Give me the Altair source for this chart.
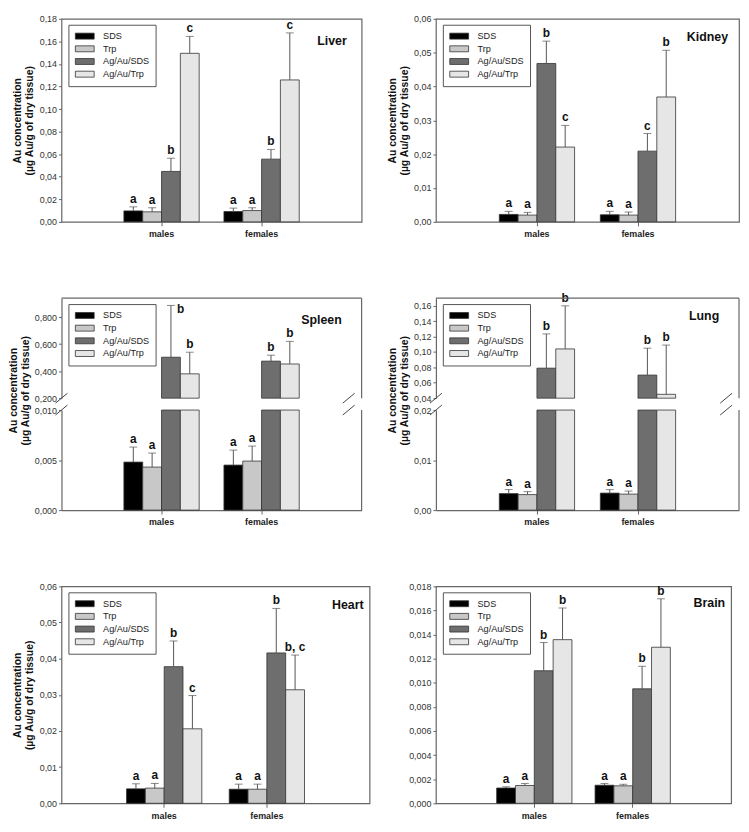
import altair as alt
import pandas as pd

FONT = "Liberation Sans"
FRAME = "#666666"
SEXES = ["males", "females"]
TREATMENTS = ["SDS", "Trp", "Ag/Au/SDS", "Ag/Au/Trp"]
COLORS = ["#000000", "#c8c8c8", "#6e6e6e", "#e6e6e6"]

# ---------------- data (mean and SD, µg Au / g dry tissue) ----------------
liver_m_mean = [0.0097, 0.0089, 0.0447, 0.1494]
liver_m_sd = [0.0036, 0.0036, 0.0117, 0.0150]
liver_f_mean = [0.0092, 0.0100, 0.0556, 0.1258]
liver_f_sd = [0.0030, 0.0025, 0.0086, 0.0417]
liver_m_let = ["a", "a", "b", "c"]
liver_f_let = ["a", "a", "b", "c"]

kidney_m_mean = [0.0022, 0.0020, 0.0468, 0.0221]
kidney_m_sd = [0.0009, 0.0008, 0.0066, 0.0064]
kidney_f_mean = [0.0021, 0.0020, 0.0209, 0.0369]
kidney_f_sd = [0.0010, 0.0009, 0.0052, 0.0138]
kidney_m_let = ["a", "a", "b", "c"]
kidney_f_let = ["a", "a", "c", "b"]

spleen_m_mean = [0.0048, 0.0043, 0.503, 0.380]
spleen_m_sd = [0.0015, 0.0014, 0.383, 0.160]
spleen_f_mean = [0.0045, 0.0049, 0.474, 0.453]
spleen_f_sd = [0.0015, 0.0015, 0.044, 0.167]
spleen_m_let = ["a", "a", "b", "b"]
spleen_f_let = ["a", "a", "b", "b"]

lung_m_mean = [0.0033, 0.0031, 0.079, 0.104]
lung_m_sd = [0.0008, 0.0006, 0.0445, 0.056]
lung_f_mean = [0.0034, 0.0032, 0.070, 0.045]
lung_f_sd = [0.0007, 0.0006, 0.035, 0.064]
lung_m_let = ["a", "a", "b", "b"]
lung_f_let = ["a", "a", "b", "b"]

heart_m_mean = [0.0040, 0.0042, 0.0378, 0.0206]
heart_m_sd = [0.0014, 0.0013, 0.0071, 0.0092]
heart_f_mean = [0.0039, 0.0039, 0.0416, 0.0314]
heart_f_sd = [0.0014, 0.0014, 0.0123, 0.0096]
heart_m_let = ["a", "a", "b", "c"]
heart_f_let = ["a", "a", "b", "b, c"]

brain_m_mean = [0.00127, 0.00148, 0.0110, 0.01358]
brain_m_sd = [0.00010, 0.00016, 0.00234, 0.00262]
brain_f_mean = [0.00150, 0.00145, 0.0095, 0.01295]
brain_f_sd = [0.00014, 0.00013, 0.00187, 0.00402]
brain_m_let = ["a", "a", "b", "b"]
brain_f_let = ["a", "a", "b", "b"]

# letters drawn beside (not above) the error cap
SIDE_LABELS = {("Spleen", "males", "Ag/Au/SDS")}

YTITLE = ["Au concentration", "(µg Au/g of dry tissue)"]


def organ_df(organ, m_mean, m_sd, f_mean, f_sd, m_let, f_let):
    rows = []
    for sex, means, sds, lets in (("males", m_mean, m_sd, m_let),
                                  ("females", f_mean, f_sd, f_let)):
        for t, mu, sd, l in zip(TREATMENTS, means, sds, lets):
            rows.append(dict(sex=sex, treat=t, mean=mu, upper=mu + sd, letter=l,
                             side=int((organ, sex, t) in SIDE_LABELS)))
    return pd.DataFrame(rows)


def x_enc(W, show_axis, domain_line):
    pi = 1 - 228.0 / W
    po = (1 + pi) / 2
    sc = alt.Scale(domain=SEXES, paddingInner=pi, paddingOuter=po)
    if show_axis:
        ax = alt.Axis(title=None, labelAngle=0, labelFontWeight="bold", labelFontSize=9,
                      labelColor="#222222", tickSize=4, tickColor=FRAME, labelPadding=4,
                      bandPosition=0.5, domain=domain_line, domainColor=FRAME, domainWidth=1.2)
        return alt.X("sex:N", sort=SEXES, scale=sc, axis=ax)
    return alt.X("sex:N", sort=SEXES, scale=sc, axis=None)


XO = alt.XOffset("treat:N", sort=TREATMENTS,
                 scale=alt.Scale(domain=TREATMENTS, paddingInner=0, paddingOuter=0))


def y_axis(ticks, dec, domain_line, title, title_y=None, title_x=-39):
    expr = "replace(format(datum.value, '.%df'), '.', ',')" % dec
    kw = dict(orient="left", values=ticks, labelExpr=expr, tickSize=3, tickColor=FRAME,
              labelPadding=2, labelFontSize=9, labelColor="#333333", domain=domain_line,
              domainColor=FRAME, domainWidth=1.2, grid=False)
    if title:
        kw.update(title=YTITLE, titleX=title_x, titleFontSize=10.5, titleFontWeight="bold",
                  titleLineHeight=12, titleColor="#111111")
        if title_y is not None:
            kw.update(titleY=title_y)
    else:
        kw.update(title=None)
    return alt.Axis(**kw)


def color_enc(legend):
    if legend:
        leg = alt.Legend(orient="none", legendX=7, legendY=6, title=None,
                         symbolType="M-1.9,-0.6H1.9V0.6H-1.9Z", symbolSize=100,
                         symbolStrokeColor="#333333", symbolStrokeWidth=0.8,
                         symbolOffset=5, labelOffset=13,
                         labelFont=FONT, labelFontSize=9.2, labelColor="#222222",
                         padding=6, rowPadding=1.8,
                         strokeColor="#555555", fillColor="white")
    else:
        leg = None
    return alt.Color("treat:N", sort=TREATMENTS,
                     scale=alt.Scale(domain=TREATMENTS, range=COLORS), legend=leg)


def series_layers(src, x, y_field_bar, y2_datum, yscale, yaxis, legend, err_filter):
    y_bar = alt.Y(y_field_bar, scale=yscale, axis=yaxis)
    y_mean = alt.Y("mean:Q", scale=yscale, axis=yaxis)
    y_up = alt.Y("upper:Q", scale=yscale, axis=yaxis)
    bar_enc = dict(x=x, xOffset=XO, y=y_bar, color=color_enc(legend))
    if y2_datum is not None:
        bar_enc["y2"] = alt.Y2(datum=y2_datum)
    bars = src.mark_bar(stroke="#333333", strokeWidth=0.8).encode(**bar_enc)
    sub = src.transform_filter(err_filter) if err_filter else src
    err = sub.mark_rule(color="#555555", strokeWidth=1).encode(
        x=x, xOffset=XO, y=y_mean, y2="upper:Q")
    cap = sub.mark_tick(orient="horizontal", size=8, thickness=1, color="#555555").encode(
        x=x, xOffset=XO, y=y_up)
    lab = sub.transform_filter("datum.side == 0").mark_text(
        fontWeight="bold", fontSize=12, font=FONT, dy=-4, baseline="alphabetic",
        color="#111111").encode(x=x, xOffset=XO, y=y_up, text="letter:N")
    lab_side = sub.transform_filter("datum.side == 1").mark_text(
        fontWeight="bold", fontSize=12, font=FONT, dx=6, dy=4, align="left",
        baseline="middle", color="#111111").encode(x=x, xOffset=XO, y=y_up, text="letter:N")
    return [bars, err, cap, lab, lab_side]


def name_layer(organ, W, pos):
    one = alt.Chart(pd.DataFrame({"name": [organ]}))
    return one.mark_text(align="right", fontWeight="bold", fontSize=12.5, font=FONT,
                         color="#111111").encode(
        x=alt.value(W - pos[0]), y=alt.value(pos[1]), text="name:N")


def panel(df, organ, W, H, ydom, yticks, dec, name_pos, ytitle=True):
    x = x_enc(W, True, False)
    yscale = alt.Scale(domain=ydom, nice=False, zero=False)
    layers = series_layers(alt.Chart(df), x, "mean:Q", None, yscale,
                           y_axis(yticks, dec, False, ytitle), True, None)
    layers.append(name_layer(organ, W, name_pos))
    return alt.layer(*layers).properties(
        width=W, height=H, view=alt.ViewBackground(stroke=FRAME, strokeWidth=1.2))


def broken_panel(df, organ, W, lo_dom, lo_ticks, up_dom, up_ticks, dec, name_pos,
                 title_x=-39, h_up=101, gap=12, h_lo=101):
    H = h_up + gap + h_lo
    brk = lo_dom[1]
    x = x_enc(W, True, True)
    src = alt.Chart(df)
    up_scale = alt.Scale(domain=up_dom, range=[h_up, 0], nice=False, zero=False)
    lo_scale = alt.Scale(domain=lo_dom, range=[H, H - h_lo], nice=False, zero=False)
    upper = series_layers(src.transform_filter("datum.mean > %g" % brk), x, "mean:Q",
                          up_dom[0], up_scale, y_axis(up_ticks, dec, True, False),
                          True, None)
    lower_src = src.transform_calculate(mclip="min(datum.mean, %g)" % brk)
    lower = series_layers(lower_src, x, "mclip:Q", lo_dom[0], lo_scale,
                          y_axis(lo_ticks, dec, True, True, title_y=H / 2 - 14,
                                 title_x=title_x),
                          False, "datum.upper <= %g" % brk)
    one = alt.Chart(pd.DataFrame({"k": [0]}))
    rule = dict(color=FRAME, strokeWidth=1.2)
    brkst = dict(color="#444444", strokeWidth=1)
    y_lo_top = H - h_lo
    frame = [
        one.mark_rule(**rule).encode(x=alt.value(0), x2=alt.value(W), y=alt.value(0)),
        one.mark_rule(**rule).encode(x=alt.value(W), y=alt.value(0), y2=alt.value(h_up)),
        one.mark_rule(**rule).encode(x=alt.value(W), y=alt.value(y_lo_top), y2=alt.value(H)),
    ]
    for yy in (h_up, y_lo_top):
        frame.append(one.mark_rule(**brkst).encode(
            x=alt.value(-6), x2=alt.value(6), y=alt.value(yy + 5), y2=alt.value(yy - 5)))
        frame.append(one.mark_rule(**brkst).encode(
            x=alt.value(W - 19), x2=alt.value(W - 7), y=alt.value(yy + 5), y2=alt.value(yy - 5)))
    chart = alt.layer(
        alt.layer(*upper), alt.layer(*lower), *frame, name_layer(organ, W, name_pos)
    ).resolve_scale(y="independent").resolve_axis(y="independent")
    return chart.properties(width=W, height=H,
                            view=alt.ViewBackground(stroke="transparent"))


liver = organ_df("Liver", liver_m_mean, liver_m_sd, liver_f_mean, liver_f_sd, liver_m_let, liver_f_let)
kidney = organ_df("Kidney", kidney_m_mean, kidney_m_sd, kidney_f_mean, kidney_f_sd, kidney_m_let, kidney_f_let)
spleen = organ_df("Spleen", spleen_m_mean, spleen_m_sd, spleen_f_mean, spleen_f_sd, spleen_m_let, spleen_f_let)
lung = organ_df("Lung", lung_m_mean, lung_m_sd, lung_f_mean, lung_f_sd, lung_m_let, lung_f_let)
heart = organ_df("Heart", heart_m_mean, heart_m_sd, heart_f_mean, heart_f_sd, heart_m_let, heart_f_let)
brain = organ_df("Brain", brain_m_mean, brain_m_sd, brain_f_mean, brain_f_sd, brain_m_let, brain_f_let)

t_liver = [0, 0.02, 0.04, 0.06, 0.08, 0.10, 0.12, 0.14, 0.16, 0.18]
t_k = [0, 0.01, 0.02, 0.03, 0.04, 0.05, 0.06]
t_brain = [0, 0.002, 0.004, 0.006, 0.008, 0.010, 0.012, 0.014, 0.016, 0.018]

panels = [
    panel(liver, "Liver", 303, 205, [0, 0.18], t_liver, 2, (15, 22)),
    panel(kidney, "Kidney", 306, 205, [0, 0.06], t_k, 2, (11, 18)),
    broken_panel(spleen, "Spleen", 303, [0, 0.010], [0, 0.005, 0.010],
                 [0.2, 0.94], [0.2, 0.4, 0.6, 0.8], 3, (20, 22), title_x=-43),
    broken_panel(lung, "Lung", 306, [0, 0.02], [0, 0.01, 0.02],
                 [0.04, 0.17], [0.04, 0.06, 0.08, 0.10, 0.12, 0.14, 0.16], 2, (20, 18)),
    panel(heart, "Heart", 311, 219, [0, 0.06], t_k, 2, (6, 19)),
    panel(brain, "Brain", 298, 219, [0, 0.018], t_brain, 3, (6, 17), ytitle=False),
]

chart = alt.concat(*panels, columns=2, spacing={"row": 77, "column": 67},
                   bounds="flush", align="each").resolve_scale(
    color="independent", xOffset="independent").resolve_legend(color="independent").properties(
    padding={"left": 0, "top": 2, "right": 0, "bottom": 0},
    background="white",
).configure(font=FONT).configure_axis(labelFont=FONT, titleFont=FONT)

chart.save("out.html", embed_options={"renderer": "svg", "actions": False})
